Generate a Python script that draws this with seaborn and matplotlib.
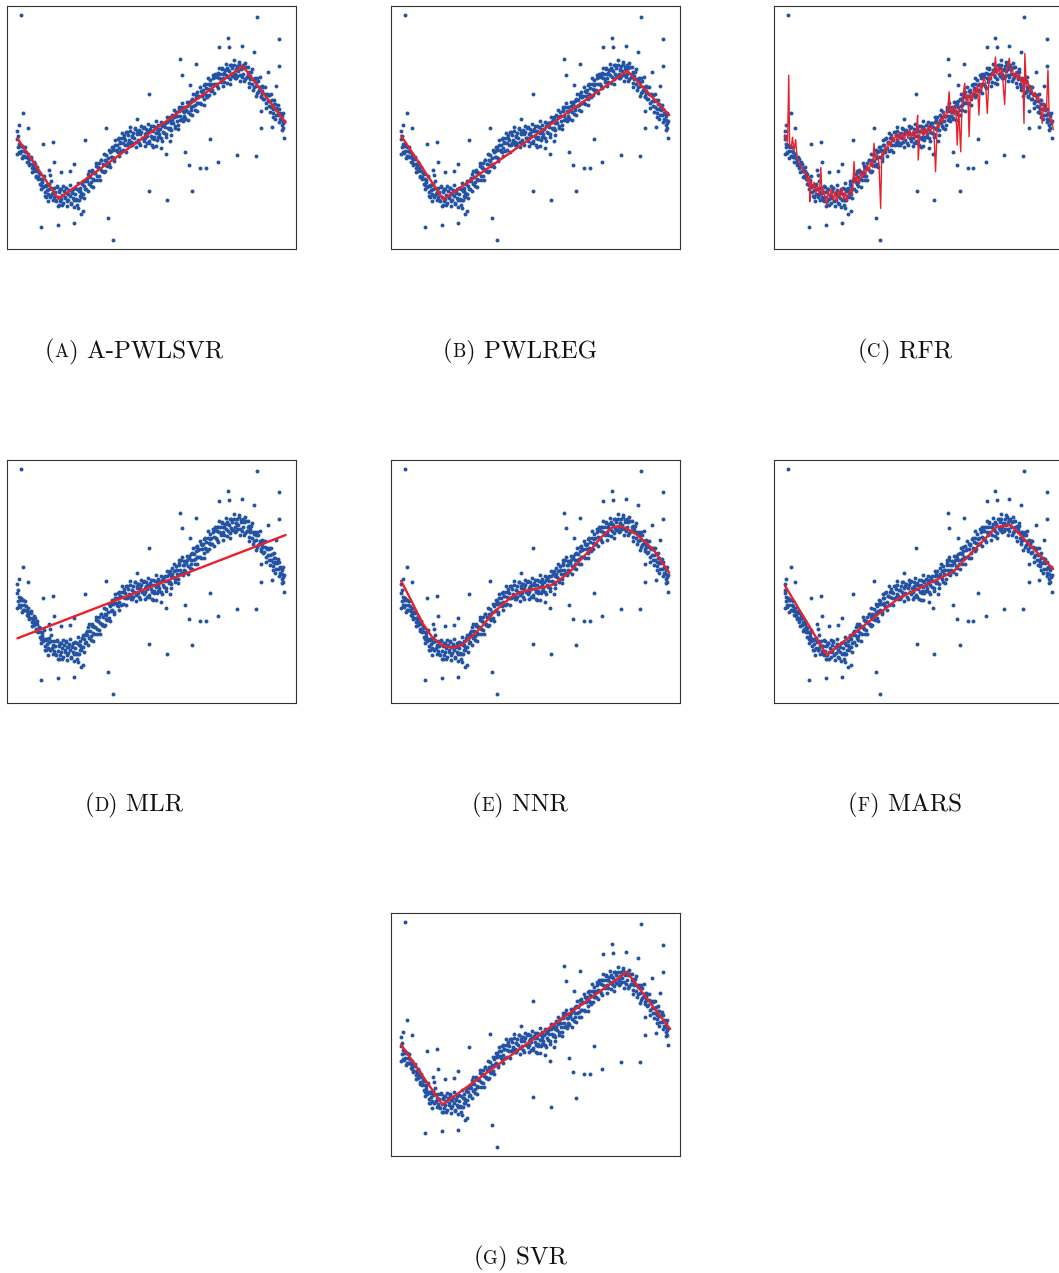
import numpy as np
import pandas as pd
import matplotlib
matplotlib.use("Agg")
import matplotlib.pyplot as plt
import seaborn as sns
from matplotlib.offsetbox import TextArea, HPacker, AnnotationBbox

# scatter data (x and y in % of the plotting window)
fall_x = [3.6, 3.9, 4.2, 4.5, 4.8, 5.1, 5.4, 5.7, 6.0, 6.3,
          6.6, 6.9, 7.2, 7.5, 7.8, 8.1, 8.4, 8.7, 9.0, 9.3,
          9.6, 9.9, 10.2, 10.5, 10.8, 11.1, 11.4, 11.7, 12.0, 12.3,
          12.6, 12.9, 13.2, 13.5, 13.8, 14.1, 14.4, 14.7, 15.0, 15.3,
          15.6, 15.9]
fall_y = [45.3, 42.0, 43.4, 39.5, 43.0, 40.2, 42.2, 38.2, 40.2, 38.0,
          39.8, 37.7, 39.0, 35.7, 36.9, 34.9, 36.9, 33.2, 34.5, 35.6,
          32.0, 33.3, 30.2, 32.2, 29.7, 31.1, 26.9, 28.9, 26.4, 28.5,
          25.4, 26.1, 23.5, 26.3, 24.1, 26.4, 22.7, 24.8, 21.6, 25.2,
          22.5, 23.6]

trough_x = [16.2, 16.5, 16.8, 17.1, 17.4, 17.7, 18.0, 18.3, 18.6, 18.9,
            19.2, 19.5, 19.8, 20.1, 20.4, 20.7, 21.0, 21.3, 21.6, 21.9,
            22.2, 22.5, 22.8, 23.1, 23.4, 23.7, 24.0, 24.3, 24.6, 24.9,
            25.2, 25.5, 25.8, 26.1, 26.4, 26.7, 27.0]
trough_y = [25.2, 21.2, 23.3, 19.7, 25.4, 21.3, 23.4, 19.8, 24.7, 20.7,
            22.4, 19.0, 23.9, 21.5, 25.3, 19.6, 23.0, 20.3, 24.2, 21.8,
            18.8, 23.5, 21.0, 24.6, 20.0, 22.6, 20.6, 24.7, 20.0, 23.7,
            21.7, 25.3, 23.1, 26.7, 22.8, 26.1, 24.6]

rise_x = [27.3, 27.6, 27.9, 28.2, 28.5, 28.8, 29.1, 29.4, 29.7, 30.0,
          30.3, 30.6, 30.9, 31.2, 31.5, 31.8, 32.1, 32.4, 32.7, 33.0,
          33.3, 33.6, 33.9, 34.2, 34.5, 34.8, 35.1, 35.4, 35.7, 36.0,
          36.3, 36.6, 36.9, 37.2, 37.5, 37.8, 38.1, 38.4, 38.7, 39.0,
          39.3, 39.6, 39.9, 40.2, 40.5, 40.8, 41.1, 41.4, 41.7, 42.0,
          42.3, 42.6, 42.9, 43.2, 43.5, 43.8, 44.1, 44.4, 44.7, 45.0,
          45.3, 45.6, 45.9, 46.2, 46.5, 46.8, 47.1, 47.4, 47.7, 48.0,
          48.3, 48.6, 48.9, 49.2, 49.5, 49.8, 50.1, 50.4, 50.7, 51.0,
          51.3, 51.6, 51.9, 52.2, 52.5, 52.8, 53.1, 53.4, 53.7, 54.0,
          54.3, 54.6, 54.9, 55.2, 55.5, 55.8]
rise_y = [28.6, 24.8, 27.9, 31.0, 26.6, 29.6, 25.8, 31.7, 28.8, 31.7,
          28.3, 31.2, 34.2, 30.2, 33.5, 30.0, 35.2, 32.9, 36.7, 32.1,
          35.1, 31.6, 36.5, 34.5, 38.5, 34.6, 37.3, 35.0, 39.9, 37.9,
          42.1, 38.0, 40.8, 37.4, 43.0, 40.9, 43.0, 39.9, 45.7, 41.6,
          43.8, 40.3, 45.7, 43.5, 46.9, 42.9, 45.0, 48.1, 42.9, 46.8,
          44.7, 48.4, 44.1, 46.3, 42.6, 47.9, 45.6, 49.5, 44.2, 47.3,
          45.0, 48.7, 43.7, 47.2, 48.3, 45.7, 49.7, 44.6, 47.2, 45.5,
          49.5, 46.6, 48.6, 44.3, 49.3, 46.7, 50.6, 45.7, 48.4, 45.3,
          50.0, 47.6, 49.5, 45.9, 51.1, 47.2, 49.5, 45.6, 50.5, 48.3,
          51.8, 47.7, 50.1, 47.3, 52.1, 49.9]

upper_x = [56.1, 56.4, 56.7, 57.0, 57.3, 57.6, 57.9, 58.2, 58.5, 58.8,
           59.1, 59.4, 59.7, 60.0, 60.3, 60.6, 60.9, 61.2, 61.5, 61.8,
           62.1, 62.4, 62.7, 63.0, 63.3, 63.6, 63.9, 64.2, 64.5, 64.8,
           65.1, 65.4, 65.7, 66.0, 66.3, 66.6, 66.9, 67.2, 67.5, 67.8,
           68.1, 68.4, 68.7, 69.0, 69.3, 69.6, 69.9, 70.2, 70.5, 70.8,
           71.1, 71.4, 71.7, 72.0, 72.3, 72.6, 72.9, 73.2, 73.5, 73.8,
           74.1, 74.4, 74.7, 75.0, 75.3, 75.6, 75.9]
upper_y = [53.1, 49.6, 52.0, 48.8, 55.3, 51.7, 54.3, 50.8, 56.2, 52.8,
           54.6, 51.1, 56.7, 54.6, 58.6, 53.4, 56.8, 54.6, 58.5, 53.7,
           57.3, 58.7, 56.2, 60.5, 55.5, 58.6, 57.0, 61.6, 58.8, 61.3,
           57.0, 62.4, 60.1, 64.5, 59.9, 63.1, 60.0, 65.2, 63.1, 65.3,
           61.8, 67.4, 63.6, 66.2, 62.6, 67.7, 65.7, 69.4, 65.3, 67.9,
           65.4, 70.4, 68.1, 72.1, 67.9, 70.6, 67.0, 72.5, 70.3, 72.2,
           68.9, 73.9, 70.2, 72.1, 68.9, 73.6, 71.4]

peak_x = [76.2, 76.5, 76.8, 77.1, 77.4, 77.7, 78.0, 78.3, 78.6, 78.9,
          79.2, 79.5, 79.8, 80.1, 80.4, 80.7, 81.0, 81.3, 81.6, 81.9,
          82.2, 82.5, 82.8, 83.1, 83.4, 83.7, 84.0, 84.3, 84.6, 84.9,
          85.2, 85.5, 85.8, 86.1, 86.4, 86.7, 87.0, 87.3, 87.6, 87.9,
          88.2, 88.5, 88.8, 89.1, 89.4, 89.7, 90.0, 90.3, 90.6, 90.9,
          91.2, 91.5, 91.8, 92.1, 92.4, 92.7, 93.0, 93.3, 93.6, 93.9,
          94.2, 94.5, 94.8, 95.1, 95.4, 95.7, 96.0]
peak_y = [74.4, 70.6, 73.2, 70.0, 75.6, 72.0, 74.3, 71.0, 75.7, 72.2,
          73.8, 70.5, 75.5, 73.3, 76.3, 71.6, 74.2, 70.7, 75.1, 72.2,
          74.3, 69.8, 74.8, 70.6, 72.2, 68.2, 72.8, 70.1, 72.8, 67.8,
          70.1, 66.5, 70.4, 67.1, 68.9, 64.2, 69.2, 65.4, 66.5, 63.1,
          67.1, 64.2, 66.7, 61.9, 63.9, 60.1, 63.6, 60.7, 63.4, 58.7,
          60.9, 58.6, 61.3, 56.1, 59.6, 57.5, 59.6, 55.1, 57.4, 55.1,
          57.7, 53.4, 55.6, 52.9, 54.8, 51.9, 52.6]

# second, looser layer of the band
loose1_x = [3.8, 4.25, 4.7, 5.15, 5.6, 6.05, 6.5, 6.95, 7.4, 7.85,
            8.3, 8.75, 9.2, 9.65, 10.1, 10.55, 11.0, 11.45, 11.9, 12.35,
            12.8, 13.25, 13.7, 14.15, 14.6, 15.05, 15.5, 15.95, 16.4, 16.85,
            17.3, 17.75, 18.2, 18.65, 19.1, 19.55, 20.0, 20.45, 20.9, 21.35,
            21.8, 22.25, 22.7, 23.15, 23.6, 24.05, 24.5, 24.95, 25.4, 25.85]
loose1_y = [46.3, 40.0, 42.4, 37.4, 42.1, 38.1, 42.0, 36.0, 37.5, 34.6,
            37.9, 31.6, 35.0, 34.9, 29.5, 33.8, 29.0, 30.8, 24.5, 27.4,
            30.1, 21.7, 25.9, 19.6, 26.8, 21.7, 27.9, 20.0, 23.2, 20.2,
            25.9, 17.8, 23.7, 24.5, 18.1, 26.0, 20.8, 25.1, 17.5, 22.8,
            26.2, 18.4, 23.1, 17.2, 24.9, 20.2, 27.1, 20.0, 23.8, 21.5]
loose2_x = [26.3, 26.75, 27.2, 27.65, 28.1, 28.55, 29.0, 29.45, 29.9, 30.35,
            30.8, 31.25, 31.7, 32.15, 32.6, 33.05, 33.5, 33.95, 34.4, 34.85,
            35.3, 35.75, 36.2, 36.65, 37.1, 37.55, 38.0, 38.45, 38.9, 39.35,
            39.8, 40.25, 40.7, 41.15, 41.6, 42.05, 42.5, 42.95, 43.4, 43.85,
            44.3, 44.75, 45.2, 45.65, 46.1, 46.55, 47.0, 47.45, 47.9, 48.35]
loose2_y = [28.0, 21.0, 27.8, 29.4, 23.7, 32.2, 27.6, 32.4, 25.4, 31.3,
            35.4, 28.3, 33.7, 28.4, 36.5, 32.2, 39.1, 32.0, 36.1, 34.1,
            40.8, 33.8, 40.5, 42.0, 36.3, 44.8, 40.3, 45.2, 38.1, 44.0,
            47.9, 40.6, 45.6, 40.1, 48.1, 43.6, 50.2, 42.7, 46.2, 43.5,
            49.6, 41.9, 48.0, 48.9, 42.6, 50.6, 45.5, 50.0, 42.5, 47.9]
loose3_x = [48.8, 49.25, 49.7, 50.15, 50.6, 51.05, 51.5, 51.95, 52.4, 52.85,
            53.3, 53.75, 54.2, 54.65, 55.1, 55.55, 56.0, 56.45, 56.9, 57.35,
            57.8, 58.25, 58.7, 59.15, 59.6, 60.05, 60.5, 60.95, 61.4, 61.85,
            62.3, 62.75, 63.2, 63.65, 64.1, 64.55, 65.0, 65.45, 65.9, 66.35,
            66.8, 67.25, 67.7, 68.15, 68.6, 69.05, 69.5, 69.95, 70.4, 70.85]
loose3_y = [51.4, 43.7, 48.5, 42.7, 50.6, 45.9, 52.5, 45.0, 48.6, 46.0,
            52.2, 44.6, 50.9, 52.0, 45.9, 54.2, 49.3, 54.2, 47.1, 53.0,
            57.0, 49.7, 54.8, 49.4, 57.5, 53.1, 60.0, 52.7, 56.5, 54.0,
            60.4, 53.1, 59.7, 61.1, 55.2, 63.7, 59.1, 63.9, 56.9, 62.7,
            66.7, 59.5, 64.7, 59.4, 67.7, 63.4, 70.5, 63.4, 67.4, 65.2]
loose4_x = [71.3, 71.75, 72.2, 72.65, 73.1, 73.55, 74.0, 74.45, 74.9, 75.35,
            75.8, 76.25, 76.7, 77.15, 77.6, 78.05, 78.5, 78.95, 79.4, 79.85,
            80.3, 80.75, 81.2, 81.65, 82.1, 82.55, 83.0, 83.45, 83.9, 84.35,
            84.8, 85.25, 85.7, 86.15, 86.6, 87.05, 87.5, 87.95, 88.4, 88.85,
            89.3, 89.75, 90.2, 90.65, 91.1, 91.55, 92.0, 92.45, 92.9, 93.35,
            93.8, 94.25, 94.7, 95.15, 95.6]
loose4_y = [71.6, 64.4, 70.9, 72.2, 66.2, 74.6, 69.8, 74.3, 67.0, 72.5,
            76.1, 68.5, 73.5, 67.8, 75.7, 71.1, 77.8, 70.3, 73.9, 71.3,
            77.1, 69.1, 75.0, 75.6, 69.0, 76.5, 70.8, 74.7, 66.6, 71.3,
            74.0, 65.5, 69.6, 63.0, 70.2, 64.8, 70.7, 62.6, 65.2, 61.6,
            66.7, 58.1, 63.4, 63.5, 56.5, 63.7, 57.8, 61.5, 53.4, 58.1,
            59.3, 52.3, 56.0, 49.1, 55.8]

near_x = [48.4, 50.7, 51.6, 53.5, 55.0, 56.5, 14.8, 15.0, 13.6, 18.8,
          22.0, 24.2, 88.0, 92.3, 95.5, 95.2, 59.6]
near_y = [43.5, 42.1, 42.4, 41.4, 39.1, 44.6, 32.5, 30.5, 21.5, 31.7,
          32.0, 18.1, 56.9, 54.5, 49.7, 51.0, 58.6]

out_x = [4.8, 86.5, 94.3, 76.5, 73.5, 77.0, 81.3, 85.4, 60.0, 65.5,
         60.6, 94.2, 90.5, 93.2, 49.2, 63.4, 5.8, 4.2, 3.7, 7.3,
         34.4, 45.0, 27.2, 12.6, 16.0, 70.4, 88.0, 91.7, 96.0, 61.7,
         79.6, 86.2, 73.1, 63.1, 67.0, 68.9, 16.4, 23.3, 49.4, 64.1,
         55.4, 24.5, 25.6, 26.5, 12.0, 17.8, 23.4, 35.2, 36.7, 18.1, 3.7]
out_y = [96.2, 95.3, 86.6, 87.0, 83.0, 83.3, 83.7, 81.2, 78.1, 76.1,
         71.7, 75.4, 73.0, 67.1, 63.6, 67.6, 55.8, 50.9, 48.7, 49.8,
         49.9, 53.4, 44.7, 43.2, 44.0, 45.1, 49.7, 50.3, 45.5, 40.1,
         38.7, 38.4, 35.8, 34.4, 33.5, 33.5, 35.8, 35.0, 24.0, 23.9,
         20.2, 16.7, 14.5, 15.6, 9.2, 10.0, 10.7, 12.8, 3.7, 18.1, 39.1]

# fitted curves
pwlsvr_x = [3.7, 17.9, 81.7, 96.5]
pwlsvr_y = [45.5, 20.6, 75.3, 52.0]
pwlreg_x = [3.6, 18.2, 81.9, 96.4]
pwlreg_y = [46.6, 20.4, 73.3, 55.1]
mlr_x = [3.7, 96.5]
mlr_y = [26.5, 69.0]
nnr_x = [3.6, 7.3, 10.7, 14.2, 17.6, 21.1, 24.6, 28.0, 31.5, 34.9,
         38.4, 41.9, 45.3, 48.8, 52.2, 55.7, 59.2, 62.6, 66.1, 69.6,
         73.0, 76.5, 78.8, 81.1, 84.5, 88.0, 91.5, 93.8, 96.4]
nnr_y = [50.1, 41.6, 33.3, 27.2, 23.7, 22.6, 23.7, 27.2, 31.3, 36.1,
         40.2, 43.6, 45.7, 46.6, 47.3, 48.4, 51.2, 54.6, 59.4, 63.5,
         68.3, 72.0, 72.7, 72.0, 69.7, 66.3, 62.1, 58.0, 53.5]
mars_x = [3.7, 18.1, 42.9, 61.9, 76.9, 81.8, 96.5]
mars_y = [48.1, 19.6, 42.9, 53.9, 72.4, 73.1, 55.0]
svr_x = [3.6, 17.9, 81.7, 96.7]
svr_y = [45.7, 21.0, 75.6, 52.1]
rfr_x = [3.5, 4.0, 4.6, 5.0, 5.3, 5.9, 6.3, 6.8, 7.4, 7.9,
         8.5, 9.1, 9.7, 10.3, 10.9, 11.5, 12.1, 12.3, 12.6, 13.2,
         13.8, 14.4, 15.0, 15.6, 16.1, 16.5, 17.1, 17.7, 18.2, 18.6,
         19.2, 19.8, 20.4, 21.0, 21.6, 22.2, 22.8, 23.4, 24.0, 24.6,
         25.2, 25.8, 26.4, 27.0, 27.6, 28.0, 28.6, 29.2, 29.8, 30.4,
         31.0, 31.6, 32.2, 32.8, 33.4, 34.0, 34.5, 35.0, 35.6, 36.2,
         36.8, 37.2, 37.8, 38.4, 39.0, 39.6, 40.2, 40.8, 41.4, 42.0,
         42.6, 43.2, 43.8, 44.4, 45.0, 45.6, 46.2, 46.8, 47.4, 48.0,
         48.6, 49.2, 49.6, 49.8, 50.4, 51.0, 51.6, 52.2, 52.8, 53.4,
         54.0, 54.6, 55.2, 55.8, 56.4, 57.0, 57.6, 58.2, 58.8, 59.4,
         60.0, 60.5, 61.0, 61.6, 62.2, 62.8, 63.3, 63.8, 64.5, 65.0,
         65.9, 66.4, 67.0, 67.4, 67.9, 68.5, 69.1, 69.7, 70.3, 70.8,
         71.3, 71.9, 72.5, 73.1, 73.7, 74.3, 74.9, 75.5, 76.0, 76.5,
         77.0, 77.6, 78.2, 78.8, 79.7, 80.2, 80.8, 81.3, 81.8, 82.4,
         83.0, 83.6, 84.2, 84.8, 85.4, 86.0, 86.4, 86.7, 87.2, 87.8,
         88.4, 89.0, 89.6, 90.2, 90.8, 91.4, 92.0, 92.7, 93.2, 93.8,
         94.2, 94.7, 95.1, 95.6, 96.0, 96.5]
rfr_y = [47.0, 45.5, 44.0, 71.5, 43.0, 42.0, 46.0, 40.5, 45.0, 37.5,
         36.0, 34.0, 33.5, 31.0, 32.0, 27.5, 30.0, 19.5, 28.0, 25.0,
         27.5, 23.0, 26.0, 22.5, 33.5, 22.0, 24.5, 20.5, 18.0, 24.0,
         21.0, 25.0, 20.0, 23.5, 19.5, 24.5, 21.0, 25.0, 20.5, 23.5,
         19.5, 23.0, 24.5, 22.5, 36.0, 27.0, 30.0, 27.0, 31.5, 29.0,
         33.0, 30.5, 34.5, 32.0, 36.0, 33.5, 43.5, 36.5, 39.0, 35.5,
         16.7, 40.0, 38.0, 42.5, 40.5, 44.0, 42.0, 46.5, 44.0, 47.0,
         44.5, 48.0, 45.0, 47.5, 44.5, 48.5, 45.5, 49.0, 46.0, 48.5,
         45.5, 49.5, 55.0, 36.6, 47.5, 50.0, 46.5, 49.5, 47.0, 51.0,
         48.0, 50.5, 49.0, 31.8, 52.0, 50.0, 54.0, 52.0, 56.5, 53.5,
         57.0, 64.7, 55.5, 58.5, 55.0, 59.0, 42.8, 58.0, 40.0, 61.0,
         68.2, 60.5, 63.5, 46.2, 64.0, 61.5, 66.0, 63.5, 67.5, 55.1,
         68.0, 66.0, 70.5, 68.5, 55.8, 71.0, 69.5, 73.0, 71.0, 79.0,
         72.0, 75.0, 71.5, 74.5, 59.5, 73.0, 75.5, 78.5, 72.5, 74.0,
         70.5, 73.0, 69.5, 72.0, 68.5, 70.5, 51.7, 80.5, 67.0, 69.0,
         64.5, 66.5, 62.5, 64.5, 61.0, 63.0, 59.0, 51.7, 60.0, 56.5,
         58.0, 73.7, 55.0, 52.5, 53.5, 49.0]

letters = ["A", "B", "C", "D", "E", "F", "G"]
names = ["A-PWLSVR", "PWLREG", "RFR", "MLR", "NNR", "MARS", "SVR"]
fits = [(pwlsvr_x, pwlsvr_y), (pwlreg_x, pwlreg_y), (rfr_x, rfr_y),
        (mlr_x, mlr_y), (nnr_x, nnr_y), (mars_x, mars_y), (svr_x, svr_y)]

pts = pd.DataFrame({
    "x": np.concatenate([fall_x, trough_x, rise_x, upper_x, peak_x,
                         loose1_x, loose2_x, loose3_x, loose4_x, near_x, out_x]),
    "y": np.concatenate([fall_y, trough_y, rise_y, upper_y, peak_y,
                         loose1_y, loose2_y, loose3_y, loose4_y, near_y, out_y]),
})

sns.set_style("white")

W, H = 1059, 1273
fig = plt.figure(figsize=(W / 100, H / 100), dpi=100)

BLUE = "#2453a4"
RED = "#e8212b"
col_left = [6.7, 390.7, 774.3]
row_top = [6.0, 459.7, 912.7]
cap_cx = [134, 520, 905]
AW, AH = 289, 243

slots = [(0, 0), (0, 1), (0, 2), (1, 0), (1, 1), (1, 2), (2, 1)]


def caption(cx, cy, letter, name):
    big = dict(family="cmr10", size=18, color="#111111")
    small = dict(family="cmr10", size=13.5, color="#111111")
    box = HPacker(children=[TextArea("(", textprops=big),
                            TextArea(letter, textprops=small),
                            TextArea(") " + name, textprops=big)],
                  align="baseline", pad=0, sep=0)
    ab = AnnotationBbox(box, (cx, cy), xycoords="figure pixels",
                        frameon=False, box_alignment=(0.5, 0.5), pad=0)
    fig.add_artist(ab)


for i, (r, c) in enumerate(slots):
    left = col_left[c]
    top = row_top[r]
    ax = fig.add_axes([left / W, 1 - (top + AH) / H, AW / W, AH / H])
    sns.scatterplot(data=pts, x="x", y="y", ax=ax, s=8, color=BLUE,
                    linewidth=0, zorder=2)
    fx, fy = fits[i]
    lw = 1.0 if names[i] == "RFR" else 1.7
    sns.lineplot(x=fx, y=fy, ax=ax, color=RED, lw=lw, estimator=None,
                 sort=False, zorder=3)
    ax.set_xlim(0, 100)
    ax.set_ylim(0, 100)
    ax.set_xticks([])
    ax.set_yticks([])
    ax.set_xlabel("")
    ax.set_ylabel("")
    for sp in ax.spines.values():
        sp.set_color("#333333")
        sp.set_linewidth(0.8)
    caption(cap_cx[c], H - (top + 345), letters[i], names[i])

fig.savefig("out.png", dpi=100)
